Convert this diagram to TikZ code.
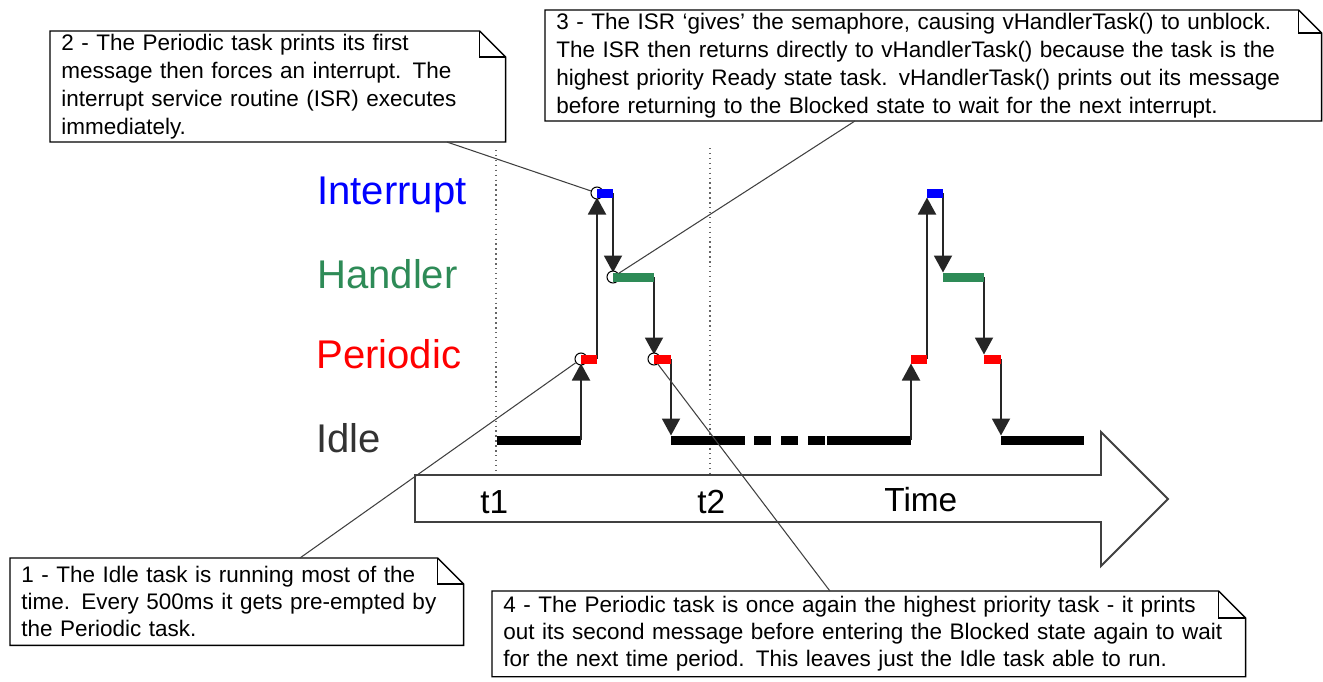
\documentclass[tikz,border=0pt]{standalone}
\usepackage{fontspec}
\setmainfont{Liberation Sans}
\usetikzlibrary{arrows.meta,positioning,calc}
\definecolor{intblue}{RGB}{0,0,255}
\definecolor{handgreen}{RGB}{46,139,87}
\definecolor{perred}{RGB}{255,0,0}
\definecolor{idlegray}{RGB}{51,51,51}
\definecolor{edgegray}{RGB}{64,64,64}

% note outline with a folded top right corner
\newcommand{\dogear}[2]{%
  \draw[noteline] (#1.north west) -- ([xshift=-#2]#1.north east)
    -- ([yshift=-#2]#1.north east) -- (#1.south east) -- (#1.south west) -- cycle;
  \draw[noteline] ([xshift=-#2]#1.north east) |- ([yshift=-#2]#1.north east);
}

\begin{document}
\begin{tikzpicture}[
  x=0.02cm, y=-0.02cm,
  note/.style={anchor=north west,align=left,inner xsep=0.22cm,inner ysep=0.05cm,
    font=\fontsize{12.8}{16}\selectfont},
  lownote/.style={note,inner ysep=0.16cm,font=\fontsize{12.8}{15.4}\selectfont},
  noteline/.style={draw=black,line width=0.8pt},
  level/.style={anchor=base west,inner sep=0pt,font=\fontsize{22.8}{26}\selectfont},
  timelbl/.style={anchor=base west,inner sep=0pt,font=\fontsize{19}{23}\selectfont},
  bar/.style={line width=0.18cm},
  jump/.style={-{Triangle[length=0.34cm,width=0.36cm]},line width=1.1pt,black!85},
  hook/.style={circle,draw,fill=white,minimum size=0.24cm,inner sep=0pt,line width=0.6pt},
  leader/.style={black!75,line width=0.6pt},
  tmark/.style={black!60,dotted,line width=0.8pt},
]
  \useasboundingbox (0,0) rectangle (1323,681);

  % time marks
  \draw[tmark] (496,150) -- (496,475);
  \draw[tmark] (710,148) -- (710,475);

  % time arrow
  \draw[edgegray,line width=1.1pt,fill=white] (415,475) -- (1101,475) -- (1101,432)
    -- (1168,499) -- (1101,566) -- (1101,522) -- (415,522) -- cycle;
  \node[timelbl] (t1) at (480,513) {t1};
  \node[timelbl] (t2) at (697,513) {t2};
  \node[timelbl] (time) at (884,511) {Time};

  % idle task
  \draw[bar,black] (497,440) -- (581,440);
  \draw[bar,black] (671,440) -- (745,440);
  \draw[bar,black,dash pattern=on 0.34cm off 0.2cm] (754,440) -- (826,440);
  \draw[bar,black] (827,440) -- (911,440);
  \draw[bar,black] (1001,440) -- (1084,440);

  \foreach \o/\s in {0/a,330/b} {
    \coordinate (go\s) at (581+\o,440);
    \coordinate (pa\s) at (581+\o,359);
    \coordinate (pb\s) at (597+\o,359);
    \coordinate (ia\s) at (597+\o,193);
    \coordinate (ib\s) at (613+\o,193);
    \coordinate (ha\s) at (613+\o,277);
    \coordinate (hb\s) at (654+\o,277);
    \coordinate (qa\s) at (654+\o,359);
    \coordinate (qb\s) at (671+\o,359);
    \coordinate (back\s) at (671+\o,440);
    \draw[jump] (go\s) -- ([yshift=-0.09cm]pa\s);
    \draw[jump] (pb\s) -- ([yshift=-0.09cm]ia\s);
    \draw[jump] (ib\s) -- ([yshift=0.09cm]ha\s);
    \draw[jump] (hb\s) -- ([yshift=0.09cm]qa\s);
    \draw[jump] (qb\s) -- ([yshift=0.09cm]back\s);
  }

  \node[hook] (preempt) at (paa) {};
  \node[hook] (isr) at (iaa) {};
  \node[hook] (give) at (haa) {};
  \node[hook] (again) at (qaa) {};

  \foreach \s in {a,b} {
    \draw[bar,perred] (pa\s) -- (pb\s);
    \draw[bar,intblue] (ia\s) -- (ib\s);
    \draw[bar,handgreen] (ha\s) -- (hb\s);
    \draw[bar,perred] (qa\s) -- (qb\s);
  }

  % task levels
  \node[level,intblue] (lint) at (317,204) {Interrupt};
  \node[level,handgreen] (lhand) at (317,288) {Handler};
  \node[level,perred] (lper) at (316,368) {Periodic};
  \node[level,idlegray] (lidle) at (316,452) {Idle};

  % notes
  \node[note,text width=8.66cm] (isrnote) at (50,31)
    {2 - The Periodic task prints its first\\message then forces an interrupt.  The\\
     interrupt service routine (ISR) executes\\immediately.};
  \node[note,text width=15.08cm] (givenote) at (545,10)
    {3 - The ISR ‘gives’ the semaphore, causing vHandlerTask() to unblock.\\
     The ISR then returns directly to vHandlerTask() because the task is the\\
     highest priority Ready state task.  vHandlerTask() prints out its message\\
     before returning to the Blocked state to wait for the next interrupt.};
  \node[lownote,text width=8.62cm] (idlenote) at (10,558)
    {1 - The Idle task is running most of the\\time.  Every 500ms it gets pre-empted by\\
     the Periodic task.};
  \node[lownote,inner ysep=0.1cm,text width=14.62cm] (againnote) at (492,591)
    {4 - The Periodic task is once again the highest priority task - it prints\\
     out its second message before entering the Blocked state again to wait\\
     for the next time period.  This leaves just the Idle task able to run.};
  \dogear{isrnote}{0.52cm}
  \dogear{givenote}{0.46cm}
  \dogear{idlenote}{0.52cm}
  \dogear{againnote}{0.54cm}

  \draw[leader] ([xshift=7.94cm]isrnote.south west) -- (isr);
  \draw[leader] ([xshift=6.2cm]givenote.south west) -- (give);
  \draw[leader] ([xshift=5.8cm]idlenote.north west) -- (preempt);
  \draw[leader] ([xshift=6.76cm]againnote.north west) -- (again);
\end{tikzpicture}
\end{document}
